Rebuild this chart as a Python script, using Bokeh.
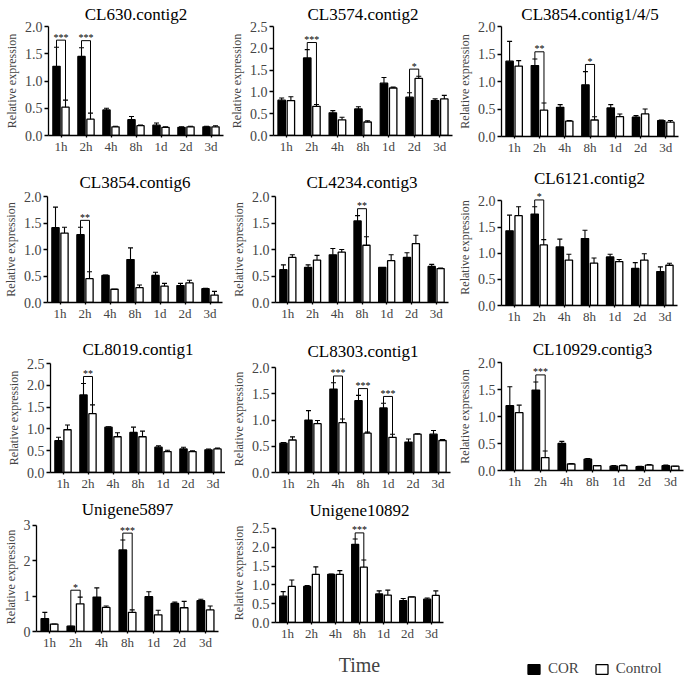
from bokeh.plotting import figure
from bokeh.models import (ColumnDataSource, FactorRange, Range1d, FixedTicker,
                          NumeralTickFormatter, Legend, LegendItem)
from bokeh.transform import dodge
from bokeh.layouts import row, column
from bokeh.embed import file_html
from bokeh.resources import INLINE
from bokeh.core.properties import value

FONT = "Liberation Serif"

times = ["1h", "2h", "4h", "8h", "1d", "2d", "3d"]
series_names = ["COR", "Control"]

# ---- CL630.contig2
cl630_cor = [1.27, 1.45, 0.47, 0.29, 0.19, 0.15, 0.16]
cl630_cor_err = [0.35, 0.16, 0.03, 0.06, 0.04, 0.01, 0.01]
cl630_ctl = [0.52, 0.30, 0.16, 0.18, 0.15, 0.16, 0.16]
cl630_ctl_err = [0.13, 0.11, 0.01, 0.01, 0.01, 0.01, 0.02]
cl630_sig_times = ["1h", "2h"]
cl630_sig_marks = ["***", "***"]
cl630_yticks = [0, 0.5, 1.0, 1.5, 2.0]

# ---- CL3574.contig2
cl3574_cor = [0.81, 1.78, 0.52, 0.61, 1.20, 0.88, 0.80]
cl3574_cor_err = [0.05, 0.19, 0.05, 0.05, 0.13, 0.10, 0.04]
cl3574_ctl = [0.80, 0.67, 0.36, 0.31, 1.09, 1.31, 0.84]
cl3574_ctl_err = [0.09, 0.04, 0.06, 0.03, 0.02, 0.05, 0.08]
cl3574_sig_times = ["2h", "2d"]
cl3574_sig_marks = ["***", "*"]
cl3574_yticks = [0, 0.5, 1.0, 1.5, 2.0, 2.5]

# ---- CL3854.contig1/4/5
cl3854a_cor = [1.37, 1.29, 0.53, 0.94, 0.52, 0.35, 0.29]
cl3854a_cor_err = [0.36, 0.12, 0.05, 0.24, 0.06, 0.03, 0.01]
cl3854a_ctl = [1.28, 0.48, 0.28, 0.30, 0.36, 0.41, 0.26]
cl3854a_ctl_err = [0.10, 0.13, 0.01, 0.06, 0.05, 0.09, 0.03]
cl3854a_sig_times = ["2h", "8h"]
cl3854a_sig_marks = ["**", "*"]
cl3854a_yticks = [0, 0.5, 1.0, 1.5, 2.0]

# ---- CL3854.contig6
cl3854b_cor = [1.41, 1.28, 0.51, 0.81, 0.51, 0.32, 0.26]
cl3854b_cor_err = [0.39, 0.14, 0.01, 0.22, 0.06, 0.04, 0.01]
cl3854b_ctl = [1.31, 0.45, 0.25, 0.28, 0.31, 0.37, 0.14]
cl3854b_ctl_err = [0.11, 0.13, 0.00, 0.05, 0.05, 0.05, 0.07]
cl3854b_sig_times = ["2h"]
cl3854b_sig_marks = ["**"]
cl3854b_yticks = [0, 0.5, 1.0, 1.5, 2.0]

# ---- CL4234.contig3
cl4234_cor = [0.62, 0.66, 0.90, 1.54, 0.66, 0.85, 0.68]
cl4234_cor_err = [0.09, 0.05, 0.12, 0.10, 0.00, 0.09, 0.04]
cl4234_ctl = [0.85, 0.80, 0.95, 1.08, 0.79, 1.11, 0.64]
cl4234_ctl_err = [0.05, 0.09, 0.05, 0.16, 0.11, 0.16, 0.01]
cl4234_sig_times = ["8h"]
cl4234_sig_marks = ["**"]
cl4234_yticks = [0, 0.5, 1.0, 1.5, 2.0]

# ---- CL6121.contig2
cl6121_cor = [1.43, 1.75, 1.12, 1.28, 0.93, 0.71, 0.65]
cl6121_cor_err = [0.30, 0.14, 0.15, 0.16, 0.05, 0.11, 0.09]
cl6121_ctl = [1.72, 1.16, 0.87, 0.81, 0.84, 0.87, 0.77]
cl6121_ctl_err = [0.17, 0.10, 0.11, 0.10, 0.04, 0.12, 0.04]
cl6121_sig_times = ["2h"]
cl6121_sig_marks = ["*"]
cl6121_yticks = [0, 0.5, 1.0, 1.5, 2.0]

# ---- CL8019.contig1
cl8019_cor = [0.73, 1.78, 1.04, 0.92, 0.58, 0.54, 0.52]
cl8019_cor_err = [0.08, 0.26, 0.01, 0.12, 0.03, 0.04, 0.02]
cl8019_ctl = [0.98, 1.35, 0.82, 0.82, 0.48, 0.48, 0.54]
cl8019_ctl_err = [0.11, 0.20, 0.09, 0.13, 0.03, 0.02, 0.02]
cl8019_sig_times = ["2h"]
cl8019_sig_marks = ["**"]
cl8019_yticks = [0, 0.5, 1.0, 1.5, 2.0, 2.5]

# ---- CL8303.contig1
cl8303_cor = [0.56, 1.00, 1.59, 1.37, 1.23, 0.58, 0.73]
cl8303_cor_err = [0.01, 0.18, 0.12, 0.10, 0.09, 0.06, 0.07]
cl8303_ctl = [0.62, 0.93, 0.95, 0.75, 0.67, 0.73, 0.61]
cl8303_ctl_err = [0.06, 0.06, 0.07, 0.02, 0.06, 0.01, 0.02]
cl8303_sig_times = ["4h", "8h", "1d"]
cl8303_sig_marks = ["***", "***", "***"]
cl8303_yticks = [0, 0.5, 1.0, 1.5, 2.0]

# ---- CL10929.contig3
cl10929_cor = [1.20, 1.49, 0.50, 0.21, 0.08, 0.07, 0.09]
cl10929_cor_err = [0.35, 0.15, 0.04, 0.01, 0.01, 0.01, 0.01]
cl10929_ctl = [1.07, 0.24, 0.12, 0.09, 0.09, 0.10, 0.08]
cl10929_ctl_err = [0.14, 0.12, 0.01, 0.00, 0.01, 0.01, 0.00]
cl10929_sig_times = ["2h"]
cl10929_sig_marks = ["***"]
cl10929_yticks = [0, 0.5, 1.0, 1.5, 2.0]

# ---- Unigene5897
u5897_cor = [0.36, 0.15, 0.97, 2.30, 0.98, 0.79, 0.87]
u5897_cor_err = [0.18, 0.00, 0.26, 0.28, 0.14, 0.04, 0.04]
u5897_ctl = [0.21, 0.78, 0.68, 0.54, 0.47, 0.67, 0.61]
u5897_ctl_err = [0.00, 0.19, 0.04, 0.07, 0.13, 0.18, 0.11]
u5897_sig_times = ["2h", "8h"]
u5897_sig_marks = ["*", "***"]
u5897_yticks = [0, 1, 2, 3]

# ---- Unigene10892
u10892_cor = [0.70, 0.96, 1.28, 2.08, 0.76, 0.58, 0.62]
u10892_cor_err = [0.12, 0.02, 0.01, 0.14, 0.08, 0.06, 0.03]
u10892_ctl = [0.96, 1.28, 1.28, 1.47, 0.73, 0.68, 0.72]
u10892_ctl_err = [0.17, 0.20, 0.10, 0.19, 0.13, 0.00, 0.12]
u10892_sig_times = ["8h"]
u10892_sig_marks = ["***"]
u10892_yticks = [0, 0.5, 1.0, 1.5, 2.0, 2.5]

OFF = 0.18
BW = 0.29
LW = 1.3


def panel(title, cor, cor_err, ctl, ctl_err, sig_t, sig_m, yticks, fmt,
          w, h, bl, br, tick_top, bb, title_gap, xlabel=None):
    ymax = yticks[-1]
    cor_top = [m + e for m, e in zip(cor, cor_err)]
    ctl_top = [m + e for m, e in zip(ctl, ctl_err)]
    idx = {t: i for i, t in enumerate(times)}
    gap = 0.065 * ymax
    sig_cor_top = [cor_top[idx[t]] for t in sig_t]
    sig_ctl_top = [ctl_top[idx[t]] for t in sig_t]
    br_y = [max(a, b) + gap for a, b in zip(sig_cor_top, sig_ctl_top)]
    yend = max([ymax] + [b + 0.10 * ymax for b in br_y])

    # place the frame so that the top tick lands at tick_top (px from figure top)
    axis_y = h - bb
    f = (yend - ymax) / yend
    bt = int(round((tick_top - f * axis_y) / (1 - f)))

    p = figure(x_range=FactorRange(factors=times), y_range=Range1d(0, yend),
               width=w, height=h, output_backend="svg", toolbar_location=None,
               min_border_left=bl, min_border_right=br, min_border_top=bt,
               min_border_bottom=bb, frame_align=False)
    p.outline_line_color = None
    p.grid.visible = False
    p.background_fill_color = "white"
    p.border_fill_color = "white"

    p.title.text = title
    p.title.align = "center"
    p.title.text_font = FONT
    p.title.text_font_size = "17px"
    p.title.text_font_style = "normal"
    p.title.text_color = "black"
    p.title.standoff = title_gap
    p.title.offset = 0

    src = ColumnDataSource(dict(time=times, cor=cor, cor_top=cor_top,
                                ctl=ctl, ctl_top=ctl_top))
    xc = dodge("time", -OFF, range=p.x_range)
    xk = dodge("time", OFF, range=p.x_range)
    p.vbar(x=xc, top="cor", width=BW, source=src, fill_color="black",
           line_color="black", line_width=LW)
    p.vbar(x=xk, top="ctl", width=BW, source=src, fill_color="white",
           line_color="black", line_width=LW)
    p.segment(x0=xc, y0="cor", x1=xc, y1="cor_top", source=src,
              line_color="black", line_width=1.1)
    p.segment(x0=xk, y0="ctl", x1=xk, y1="ctl_top", source=src,
              line_color="black", line_width=1.1)
    p.scatter(x=xc, y="cor_top", marker="dash", size=5, source=src,
              line_color="black", line_width=1.1)
    p.scatter(x=xk, y="ctl_top", marker="dash", size=5, source=src,
              line_color="black", line_width=1.1)

    ssrc = ColumnDataSource(dict(time=sig_t, y=br_y, cor_top=sig_cor_top,
                                 ctl_top=sig_ctl_top, mark=sig_m))
    p.segment(x0=xc, y0="y", x1=xk, y1="y", source=ssrc, line_color="black", line_width=1.0)
    p.segment(x0=xc, y0="cor_top", x1=xc, y1="y", source=ssrc, line_color="black", line_width=1.0)
    p.segment(x0=xk, y0="ctl_top", x1=xk, y1="y", source=ssrc, line_color="black", line_width=1.0)
    p.text(x="time", y="y", text="mark", source=ssrc, text_align="center",
           text_baseline="middle", y_offset=-3, text_font=value(FONT),
           text_font_size="10px", text_color="black")

    ya = p.yaxis[0]
    ya.ticker = FixedTicker(ticks=yticks)
    ya.bounds = (0, ymax)
    ya.formatter = NumeralTickFormatter(format=fmt)
    ya.minor_tick_line_color = None
    ya.major_tick_out = 4
    ya.major_tick_in = 0
    ya.major_label_standoff = 2
    ya.axis_label = "Relative expression"
    ya.axis_label_standoff = 3
    ya.axis_label_text_font = FONT
    ya.axis_label_text_font_size = "12px"
    ya.axis_label_text_font_style = "normal"
    ya.major_label_text_font = FONT
    ya.major_label_text_font_size = "14px"
    ya.axis_line_width = LW
    ya.major_tick_line_width = LW

    xa = p.xaxis[0]
    xa.major_tick_out = 2
    xa.major_tick_in = 0
    xa.major_label_standoff = 1
    xa.major_label_text_font = FONT
    xa.major_label_text_font_size = "13px"
    xa.axis_line_width = LW
    xa.major_tick_line_width = LW
    if xlabel:
        xa.axis_label = xlabel
        xa.axis_label_text_font = FONT
        xa.axis_label_text_font_size = "20px"
        xa.axis_label_text_font_style = "normal"
        xa.axis_label_standoff = 10
    return p


W1, W2, W3 = 225, 229, 231
H1, H2, H3, H4 = 165, 165, 164, 184

p1 = panel("CL630.contig2", cl630_cor, cl630_cor_err, cl630_ctl, cl630_ctl_err,
           cl630_sig_times, cl630_sig_marks, cl630_yticks, "0.0", W1, H1, 48, 2, 25, 30, 5)
p2 = panel("CL3574.contig2", cl3574_cor, cl3574_cor_err, cl3574_ctl, cl3574_ctl_err,
           cl3574_sig_times, cl3574_sig_marks, cl3574_yticks, "0.0", W2, H1, 48, 2, 25, 30, 5)
p3 = panel("CL3854.contig1/4/5", cl3854a_cor, cl3854a_cor_err, cl3854a_ctl, cl3854a_ctl_err,
           cl3854a_sig_times, cl3854a_sig_marks, cl3854a_yticks, "0.0", W3, H1, 44, 7, 26, 29, 5)

p4 = panel("CL3854.contig6", cl3854b_cor, cl3854b_cor_err, cl3854b_ctl, cl3854b_ctl_err,
           cl3854b_sig_times, cl3854b_sig_marks, cl3854b_yticks, "0.0", W1, H2, 47, 3, 30, 28, 10)
p5 = panel("CL4234.contig3", cl4234_cor, cl4234_cor_err, cl4234_ctl, cl4234_ctl_err,
           cl4234_sig_times, cl4234_sig_marks, cl4234_yticks, "0.0", W2, H2, 50, 6, 29, 28, 10)
p6 = panel("CL6121.contig2", cl6121_cor, cl6121_cor_err, cl6121_ctl, cl6121_ctl_err,
           cl6121_sig_times, cl6121_sig_marks, cl6121_yticks, "0.0", W3, H2, 46, 8, 31, 25, 3)

p7 = panel("CL8019.contig1", cl8019_cor, cl8019_cor_err, cl8019_ctl, cl8019_ctl_err,
           cl8019_sig_times, cl8019_sig_marks, cl8019_yticks, "0.0", W1, H3, 50, 0, 33, 22, 10)
p8 = panel("CL8303.contig1", cl8303_cor, cl8303_cor_err, cl8303_ctl, cl8303_ctl_err,
           cl8303_sig_times, cl8303_sig_marks, cl8303_yticks, "0.0", W2, H3, 50, 4, 37, 22, 10)
p9 = panel("CL10929.contig3", cl10929_cor, cl10929_cor_err, cl10929_ctl, cl10929_ctl_err,
           cl10929_sig_times, cl10929_sig_marks, cl10929_yticks, "0.0", W3, H3, 46, 2, 32, 24, 7)

p10 = panel("Unigene5897", u5897_cor, u5897_cor_err, u5897_ctl, u5897_ctl_err,
            u5897_sig_times, u5897_sig_marks, u5897_yticks, "0", W1, H4, 35, 7, 28, 47, 7)
p11 = panel("Unigene10892", u10892_cor, u10892_cor_err, u10892_ctl, u10892_ctl_err,
            u10892_sig_times, u10892_sig_marks, u10892_yticks, "0.0", W2, H4, 50, 11, 34, 47, 7,
            xlabel="Time")

nan = float("nan")
lg = figure(width=W3, height=H4, output_backend="svg", toolbar_location=None,
            x_range=Range1d(0, 1), y_range=Range1d(0, 1), x_axis_type=None,
            y_axis_type=None, min_border=0, frame_align=False)
lg.outline_line_color = None
lg.grid.visible = False
legend_src = ColumnDataSource(dict(x=[nan], top=[nan]))
r_cor = lg.vbar(x="x", top="top", width=0.5, source=legend_src,
                fill_color="black", line_color="black", line_width=LW)
r_ctl = lg.vbar(x="x", top="top", width=0.5, source=legend_src,
                fill_color="white", line_color="black", line_width=LW)
legend = Legend(items=[LegendItem(label=series_names[0], renderers=[r_cor]),
                       LegendItem(label=series_names[1], renderers=[r_ctl])],
                orientation="horizontal", location=(72, 1))
legend.label_text_font = FONT
legend.label_text_font_size = "15px"
legend.glyph_width = 15
legend.glyph_height = 12
legend.label_standoff = 7
legend.spacing = 15
legend.padding = 2
legend.margin = 0
legend.border_line_color = None
legend.background_fill_alpha = 0
lg.add_layout(legend)

layout = column(row(p1, p2, p3), row(p4, p5, p6), row(p7, p8, p9), row(p10, p11, lg))

open("out.html", "w").write(file_html(layout, INLINE))
